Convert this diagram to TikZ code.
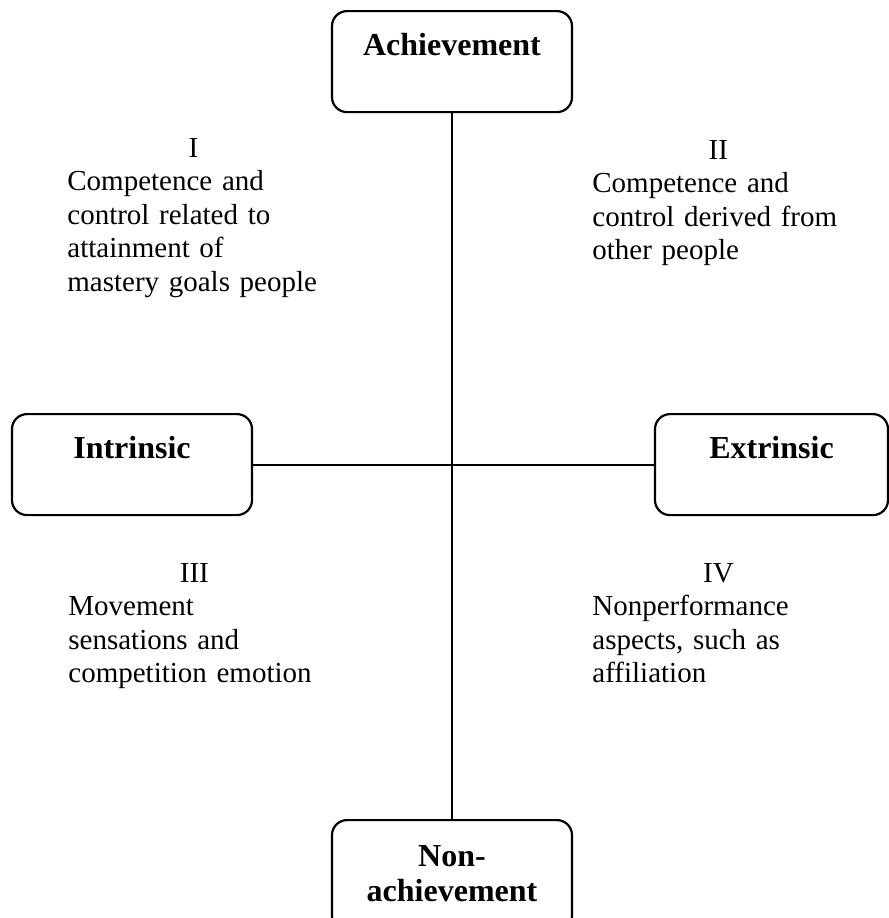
\documentclass[tikz,border=0pt]{standalone}
\usepackage{fontspec}
\setmainfont{Liberation Serif}
\usepackage{tikz}
\usetikzlibrary{positioning}

\begin{document}
\begin{tikzpicture}[x=0.5pt, y=-0.5pt,
    catbox/.style={draw, rounded corners=7.5pt, line width=1.1pt, anchor=north, inner sep=0pt,
      minimum width=120pt, text height=22pt, text depth=28.5pt,
      font=\fontsize{16}{17.5}\selectfont\bfseries},
    quadtext/.style={anchor=base west, inner sep=0pt, text width=126pt, align=left,
      font=\fontsize{14.5}{16.75}\selectfont},
    axis/.style={line width=0.9pt}]
  \useasboundingbox (0,0) rectangle (889,918);

  \node[catbox] (ach) at (452,10) {Achievement};
  \node[catbox] (intr) at (132,413) {Intrinsic};
  \node[catbox, minimum width=116.5pt] (extr) at (771.5,413) {Extrinsic};
  \node[catbox, align=center, text height=40.5pt, text depth=15pt] (nonach) at (452,819) {Non-\\achievement};

  \draw[axis] (ach.south) -- (nonach.north);
  \draw[axis] (intr.east) -- (extr.west);

  \node[quadtext] (q1) at (67,157) {\hfill I\hfill\null\\Competence and\\control related to\\attainment of\\mastery goals people};
  \node[quadtext] (q2) at (592,159) {\hfill II\hfill\null\\Competence and\\control derived from\\other people};
  \node[quadtext] (q3) at (68,582) {\hfill III\hfill\null\\Movement\\sensations and\\competition emotion};
  \node[quadtext] (q4) at (592,582) {\hfill IV\hfill\null\\Nonperformance\\aspects, such as\\affiliation};
\end{tikzpicture}
\end{document}
